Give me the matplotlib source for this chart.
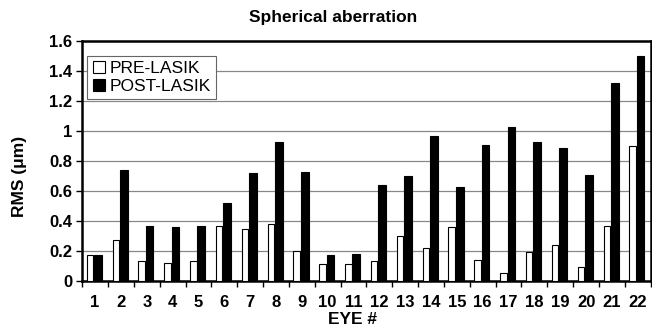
import matplotlib
matplotlib.use("Agg")
import matplotlib.pyplot as plt
import numpy as np

eyes = [str(i) for i in range(1, 23)]
pre_lasik = [0.17, 0.27, 0.13, 0.12, 0.13, 0.37, 0.35, 0.38, 0.20, 0.11, 0.11,
             0.13, 0.30, 0.22, 0.36, 0.14, 0.05, 0.19, 0.24, 0.09, 0.37, 0.90]
post_lasik = [0.17, 0.74, 0.37, 0.36, 0.37, 0.52, 0.72, 0.93, 0.73, 0.17, 0.18,
              0.64, 0.70, 0.97, 0.63, 0.91, 1.03, 0.93, 0.89, 0.71, 1.32, 1.50]
yticks = [0, 0.2, 0.4, 0.6, 0.8, 1.0, 1.2, 1.4, 1.6]
ytick_labels = ["0", "0.2", "0.4", "0.6", "0.8", "1", "1.2", "1.4", "1.6"]

plt.rcParams['font.family'] = ['Liberation Sans', 'DejaVu Sans']

fig = plt.figure(figsize=(6.52, 3.29), dpi=100)
ax = fig.add_axes([0.126, 0.146, 0.872, 0.729])

x = np.arange(1, len(eyes) + 1)
ax.bar(x - 0.2, pre_lasik, width=0.25, color='white', edgecolor='black',
       linewidth=0.8, label='PRE-LASIK', zorder=3)
ax.bar(x + 0.11, post_lasik, width=0.3, color='black', edgecolor='black',
       linewidth=0.8, label='POST-LASIK', zorder=3)

ax.set_xlim(0.5, 22.5)
ax.set_ylim(0, 1.6)
ax.set_yticks(yticks)
ax.set_yticklabels(ytick_labels, fontweight='bold', fontsize=12)
ax.set_xticks(x)
ax.set_xticklabels(eyes, fontweight='bold', fontsize=12)
ax.set_xticks(np.arange(0.5, 23, 1), minor=True)
ax.tick_params(axis='x', which='major', length=0, pad=10)
ax.tick_params(axis='x', which='minor', length=4, width=1, direction='out')
ax.tick_params(axis='y', length=4, width=1, direction='out', pad=3)

ax.yaxis.grid(True, color='#888888', linewidth=0.9, zorder=0)
ax.set_axisbelow(True)
for s in ax.spines.values():
    s.set_linewidth(1.8)
    s.set_color('black')

fig.text(0.511, 0.948, 'Spherical aberration', fontweight='bold', fontsize=12.5,
         ha='center', va='center')
fig.text(0.54, 0.03, 'EYE #', fontweight='bold', fontsize=12.5,
         ha='center', va='center')
fig.text(0.03, 0.465, 'RMS (\u03bcm)', fontweight='bold', fontsize=12.5,
         ha='center', va='center', rotation=90)

leg = ax.legend(loc='upper left', bbox_to_anchor=(0.0, 0.96), fontsize=12.5,
                frameon=True, fancybox=False, borderpad=0.3, labelspacing=0.15,
                handlelength=0.7, handletextpad=0.3, borderaxespad=0.3)
leg.get_frame().set_edgecolor('#666666')
leg.get_frame().set_linewidth(0.8)
leg.get_frame().set_alpha(1)

fig.savefig('out.png', dpi=100)
